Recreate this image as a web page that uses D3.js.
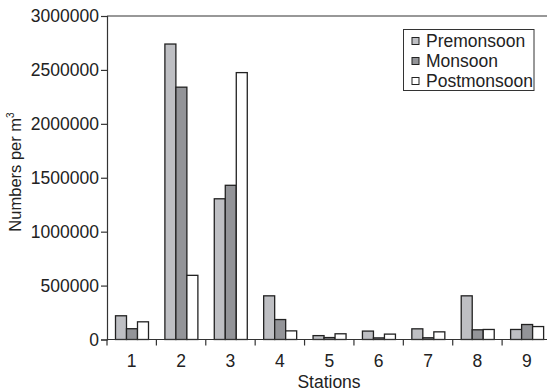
<!DOCTYPE html>
<html><head><meta charset="utf-8">
<script src="https://cdn.jsdelivr.net/npm/d3@7"></script>
<style>body{margin:0;background:#fff}svg{display:block;font-family:"Liberation Sans",Arial,sans-serif}</style>
</head><body><svg id="c" width="547" height="391"></svg>
<script>
const stations = ["1","2","3","4","5","6","7","8","9"];
const seriesNames = ["Premonsoon","Monsoon","Postmonsoon"];
const premonsoon = [220000,2740000,1305000,405000,36000,78000,99000,405000,93000];
const monsoon = [100000,2340000,1430000,185000,18000,15000,16000,90000,139000];
const postmonsoon = [164000,595000,2475000,80000,53000,50000,71000,93000,120000];
const yTicks = [0,500000,1000000,1500000,2000000,2500000,3000000];
const colors = ["#bebfc3","#939498","#ffffff"];

const values = [premonsoon, monsoon, postmonsoon];
const svg = d3.select("#c");
const x0 = 107, x1end = 551.5, yTop = 16, yBot = 339.5;
const FS = 17.5;
const x = d3.scaleBand().domain(stations).range([x0, x1end]).padding(0);
const xs = d3.scaleBand().domain(seriesNames).range([8.5, 41.5]).padding(0);
const y = d3.scaleLinear().domain([0,3000000]).range([yBot, yTop]);

stations.forEach((s,i)=>{
  seriesNames.forEach((n,j)=>{
    svg.append("rect")
      .attr("x", x(s)+xs(n))
      .attr("y", y(values[j][i]))
      .attr("width", xs.bandwidth())
      .attr("height", yBot - y(values[j][i]))
      .attr("fill", colors[j])
      .attr("stroke", "#222")
      .attr("stroke-width", 1.3);
  });
});

svg.append("line").attr("x1",x0).attr("x2",547).attr("y1",yTop).attr("y2",yTop)
  .attr("stroke","#333").attr("stroke-width",1.2);

const ya = svg.append("g").attr("transform",`translate(${x0},0)`)
  .call(d3.axisLeft(y).tickValues(yTicks).tickFormat(d3.format("d")).tickSize(6).tickPadding(2));
ya.select(".domain").attr("stroke","#333").attr("stroke-width",1.2);
ya.selectAll(".tick line").attr("stroke","#333").attr("stroke-width",1.2);
ya.selectAll("text").attr("font-size",FS).attr("fill","#222").attr("font-family","Liberation Sans, Arial, sans-serif");

const xa = svg.append("g").attr("transform",`translate(0,${yBot})`)
  .call(d3.axisBottom(x).tickSize(0).tickPadding(15));
xa.select(".domain").remove();
xa.selectAll("text").attr("font-size",FS).attr("fill","#222").attr("font-family","Liberation Sans, Arial, sans-serif");
svg.append("line").attr("x1",x0).attr("x2",547).attr("y1",yBot).attr("y2",yBot)
  .attr("stroke","#333").attr("stroke-width",1.2);
stations.forEach(s=>{
  svg.append("line").attr("x1",x(s)).attr("x2",x(s)).attr("y1",yBot).attr("y2",yBot+6)
    .attr("stroke","#333").attr("stroke-width",1.2);
});

svg.append("text").attr("x",329).attr("y",388).attr("text-anchor","middle")
  .attr("font-size",FS).attr("fill","#222").text("Stations");
const yl = svg.append("text").attr("transform","translate(21,172) rotate(-90)")
  .attr("text-anchor","middle").attr("font-size",16.5).attr("fill","#222");
yl.append("tspan").text("Numbers per m");
yl.append("tspan").attr("font-size",10).attr("dy",-7).text("3");

const lg = svg.append("g");
lg.append("rect").attr("x",403.5).attr("y",29.5).attr("width",130.5).attr("height",61)
  .attr("fill","#fff").attr("stroke","#333").attr("stroke-width",1);
seriesNames.forEach((n,j)=>{
  const cy = 41 + j*20;
  lg.append("rect").attr("x",412).attr("y",cy-3.5).attr("width",7).attr("height",7)
    .attr("fill",colors[j]).attr("stroke","#222").attr("stroke-width",1);
  lg.append("text").attr("x",426).attr("y",cy+6).attr("font-size",FS).attr("fill","#222").text(n);
});
</script></body></html>
